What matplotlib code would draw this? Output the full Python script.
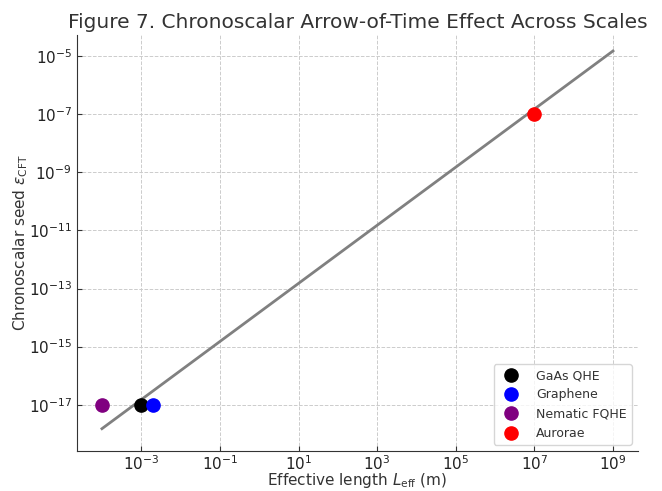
import numpy as np
import matplotlib
matplotlib.use("Agg")
import matplotlib.pyplot as plt

# Data
names = ["GaAs QHE", "Graphene", "Nematic FQHE", "Aurorae"]
L_eff = [1e-3, 2e-3, 1e-4, 1e7]
eps = [1e-17, 1e-17, 1e-17, 1e-7]
colors = ["black", "blue", "purple", "red"]

line_x = [1e-4, 1e9]
line_y = [1.5e-18, 1.5e-5]

xticks = [1e-3, 1e-1, 1e1, 1e3, 1e5, 1e7, 1e9]
yticks = [1e-17, 1e-15, 1e-13, 1e-11, 1e-9, 1e-7, 1e-5]

fig = plt.figure(figsize=(6.62, 4.91), dpi=100)
ax = fig.add_axes([0.116, 0.081, 0.848, 0.848])

ax.plot(line_x, line_y, color="gray", lw=2, zorder=2)
for n, x, y, c in zip(names, L_eff, eps, colors):
    ax.plot([x], [y], "o", color=c, markersize=9.5, label=n, zorder=3)

ax.set_xscale("log")
ax.set_yscale("log")
ax.set_xticks(xticks)
ax.set_yticks(yticks)
ax.minorticks_off()
ax.set_xlim(10**-4.64, 10**9.64)
ax.set_ylim(10**-18.6, 10**-4.27)

ax.grid(True, linestyle="--", color="#cccccc", linewidth=0.7)
ax.spines["top"].set_visible(False)
ax.spines["right"].set_visible(False)
ax.spines["left"].set_color("#333333")
ax.spines["bottom"].set_color("#333333")
ax.tick_params(direction="in", labelsize=11, colors="#333333", labelcolor="#222222")
ax.tick_params(axis="x", pad=2)

ax.set_xlabel(r"Effective length $L_{\mathrm{eff}}$ (m)", fontsize=11, color="#333333", labelpad=-1)
ax.set_ylabel(r"Chronoscalar seed $\varepsilon_{\mathrm{CFT}}$", fontsize=11, color="#333333", labelpad=-1)
ax.set_title("Figure 7. Chronoscalar Arrow-of-Time Effect Across Scales", fontsize=14.5, color="#333333", pad=5)

ax.legend(loc="lower right", fontsize=9, labelcolor="#333333", handletextpad=1.0)

fig.savefig("out.png", dpi=100)
